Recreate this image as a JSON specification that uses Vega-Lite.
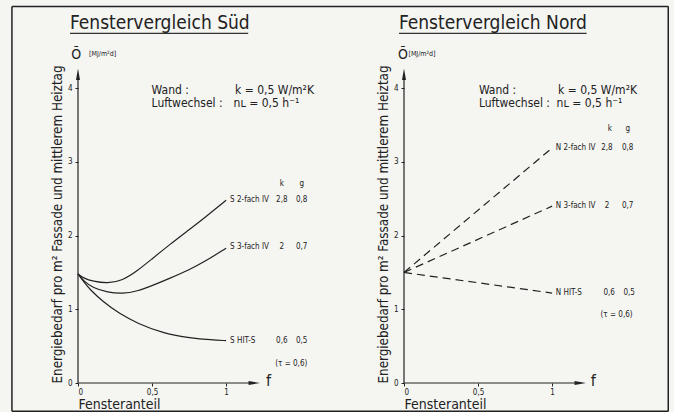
{
  "$schema": "https://vega.github.io/schema/vega-lite/v6.json",
  "background": "#f5f5f2",
  "padding": {"left": 11, "top": 5, "right": 5, "bottom": 0},
  "bounds": "flush",
  "spacing": 89,
  "config": {
    "font": "DejaVu Sans Condensed",
    "view": {"stroke": null},
    "axis": {"labelColor": "#222", "titleColor": "#222", "tickColor": "#222", "grid": false, "domain": false, "titleFontWeight": "normal"},
    "text": {"color": "#222"}
  },
  "datasets": {
    "one": [{}],
    "sued": [
      {"s": "2-fach IV", "f": 0, "q": 1.48}, {"s": "2-fach IV", "f": 0.04, "q": 1.42}, {"s": "2-fach IV", "f": 0.1, "q": 1.38},
      {"s": "2-fach IV", "f": 0.2, "q": 1.35}, {"s": "2-fach IV", "f": 0.3, "q": 1.39}, {"s": "2-fach IV", "f": 0.4, "q": 1.52},
      {"s": "2-fach IV", "f": 0.5, "q": 1.685}, {"s": "2-fach IV", "f": 0.62, "q": 1.88}, {"s": "2-fach IV", "f": 0.75, "q": 2.08},
      {"s": "2-fach IV", "f": 0.85, "q": 2.235}, {"s": "2-fach IV", "f": 1.0, "q": 2.48},
      {"s": "3-fach IV", "f": 0, "q": 1.48}, {"s": "3-fach IV", "f": 0.04, "q": 1.38}, {"s": "3-fach IV", "f": 0.1, "q": 1.29},
      {"s": "3-fach IV", "f": 0.2, "q": 1.23}, {"s": "3-fach IV", "f": 0.3, "q": 1.21}, {"s": "3-fach IV", "f": 0.4, "q": 1.245},
      {"s": "3-fach IV", "f": 0.5, "q": 1.32}, {"s": "3-fach IV", "f": 0.62, "q": 1.42}, {"s": "3-fach IV", "f": 0.75, "q": 1.535},
      {"s": "3-fach IV", "f": 0.85, "q": 1.64}, {"s": "3-fach IV", "f": 1.0, "q": 1.83},
      {"s": "HIT-S", "f": 0, "q": 1.48}, {"s": "HIT-S", "f": 0.04, "q": 1.37}, {"s": "HIT-S", "f": 0.08, "q": 1.27},
      {"s": "HIT-S", "f": 0.17, "q": 1.10}, {"s": "HIT-S", "f": 0.28, "q": 0.94}, {"s": "HIT-S", "f": 0.4, "q": 0.81},
      {"s": "HIT-S", "f": 0.58, "q": 0.67}, {"s": "HIT-S", "f": 0.76, "q": 0.61}, {"s": "HIT-S", "f": 0.9, "q": 0.585},
      {"s": "HIT-S", "f": 1.0, "q": 0.575}
    ],
    "nord": [
      {"s": "2-fach IV", "f": 0, "q": 1.5}, {"s": "2-fach IV", "f": 1, "q": 3.19},
      {"s": "3-fach IV", "f": 0, "q": 1.5}, {"s": "3-fach IV", "f": 1, "q": 2.4},
      {"s": "HIT-S", "f": 0, "q": 1.5}, {"s": "HIT-S", "f": 1, "q": 1.22}
    ],
    "names_s": [
      {"f": 1.027, "q": 2.48, "text": "S  2-fach IV"},
      {"f": 1.027, "q": 1.84, "text": "S  3-fach IV"},
      {"f": 1.027, "q": 0.575, "text": "S  HIT-S"}
    ],
    "names_n": [
      {"f": 1.025, "q": 3.19, "text": "N  2-fach IV"},
      {"f": 1.025, "q": 2.40, "text": "N  3-fach IV"},
      {"f": 1.025, "q": 1.22, "text": "N  HIT-S"}
    ],
    "kg_s": [
      {"f": 1.376, "q": 2.705, "text": "k"}, {"f": 1.51, "q": 2.705, "text": "g"},
      {"f": 1.376, "q": 2.48, "text": "2,8"}, {"f": 1.51, "q": 2.48, "text": "0,8"},
      {"f": 1.376, "q": 1.84, "text": "2"}, {"f": 1.51, "q": 1.84, "text": "0,7"},
      {"f": 1.376, "q": 0.575, "text": "0,6"}, {"f": 1.51, "q": 0.575, "text": "0,5"},
      {"f": 1.44, "q": 0.26, "text": "(τ = 0,6)"}
    ],
    "kg_n": [
      {"f": 1.39, "q": 3.45, "text": "k"}, {"f": 1.51, "q": 3.45, "text": "g"},
      {"f": 1.37, "q": 3.19, "text": "2,8"}, {"f": 1.51, "q": 3.19, "text": "0,8"},
      {"f": 1.37, "q": 2.40, "text": "2"}, {"f": 1.51, "q": 2.40, "text": "0,7"},
      {"f": 1.385, "q": 1.22, "text": "0,6"}, {"f": 1.52, "q": 1.22, "text": "0,5"},
      {"f": 1.435, "q": 0.92, "text": "(τ = 0,6)"}
    ],
    "info_s": [
      {"f": 0.497, "q": 3.98, "text": "Wand :"},
      {"f": 0.497, "q": 3.80, "text": "Luftwechsel :"},
      {"f": 1.06, "q": 3.98, "text": "k = 0,5 W/m²K"},
      {"f": 1.05, "q": 3.80, "text": "nʟ = 0,5 h⁻¹"}
    ],
    "info_n": [
      {"f": 0.506, "q": 3.98, "text": "Wand :"},
      {"f": 0.506, "q": 3.80, "text": "Luftwechsel :"},
      {"f": 1.04, "q": 3.98, "text": "k = 0,5 W/m²K"},
      {"f": 1.03, "q": 3.80, "text": "nʟ = 0,5 h⁻¹"}
    ]
  },
  "hconcat": [
    {
      "width": 237,
      "height": 339,
      "layer": [
        {
          "data": {"name": "sued"},
          "mark": {"type": "line", "interpolate": "basis", "color": "#222", "strokeWidth": 1.2},
          "encoding": {
            "x": {"field": "f", "type": "quantitative", "scale": {"domain": [0, 1.6], "nice": false},
              "axis": {"values": [0, 0.5, 1], "tickSize": 3, "labelFontSize": 8, "labelPadding": 2, "labelExpr": "replace(format(datum.value, '~g'), '.', ',')", "title": "Fensteranteil", "titleAnchor": "start", "titleFontSize": 14, "titlePadding": 1}},
            "y": {"field": "q", "type": "quantitative", "scale": {"domain": [0, 4.6], "nice": false},
              "axis": {"values": [0, 1, 2, 3, 4], "tickSize": 3, "labelFontSize": 8, "labelPadding": 3, "labelExpr": "format(datum.value, '~g')", "title": "Energiebedarf pro m² Fassade und mittlerem Heiztag", "titleAnchor": "start", "titleFontSize": 13.3, "titlePadding": 3}},
            "detail": {"field": "s", "type": "nominal"}
          }
        },
        {"data": {"name": "one"}, "mark": {"type": "text", "text": "Fenstervergleich  Süd", "fontSize": 19, "align": "left", "baseline": "alphabetic"}, "encoding": {"x": {"datum": -0.054}, "y": {"datum": 4.8}}},
        {"data": {"name": "one"}, "mark": {"type": "rule", "color": "#222", "strokeWidth": 1.2}, "encoding": {"x": {"datum": 0}, "y": {"datum": 0}, "y2": {"datum": 4.15}}},
        {"data": {"name": "one"}, "mark": {"type": "rule", "color": "#222", "strokeWidth": 1.2}, "encoding": {"y": {"datum": 0}, "x": {"datum": 0}, "x2": {"datum": 1.17}}},
        {"data": {"name": "one"}, "mark": {"type": "point", "shape": "M0,-1L0.35,1L-0.35,1Z", "filled": true, "color": "#222", "size": 130, "opacity": 1}, "encoding": {"x": {"datum": 0}, "y": {"datum": 4.19}}},
        {"data": {"name": "one"}, "mark": {"type": "point", "shape": "M1,0L-1,-0.35L-1,0.35Z", "filled": true, "color": "#222", "size": 130, "opacity": 1}, "encoding": {"x": {"datum": 1.19}, "y": {"datum": 0}}},
        {"data": {"name": "one"}, "mark": {"type": "text", "text": "f", "fontSize": 16, "align": "left", "baseline": "middle"}, "encoding": {"x": {"datum": 1.27}, "y": {"datum": 0.03}}},
        {"data": {"name": "one"}, "mark": {"type": "text", "text": "Ō", "fontSize": 14, "align": "left", "baseline": "middle"}, "encoding": {"x": {"datum": -0.045}, "y": {"datum": 4.45}}},
        {"data": {"name": "one"}, "mark": {"type": "text", "text": "[MJ/m²d]", "fontSize": 7, "align": "left", "baseline": "middle"}, "encoding": {"x": {"datum": 0.075}, "y": {"datum": 4.46}}},
        {"data": {"name": "names_s"}, "mark": {"type": "text", "fontSize": 8, "align": "left", "baseline": "middle"}, "encoding": {"x": {"field": "f", "type": "quantitative"}, "y": {"field": "q", "type": "quantitative"}, "text": {"field": "text"}}},
        {"data": {"name": "kg_s"}, "mark": {"type": "text", "fontSize": 8, "align": "center", "baseline": "middle"}, "encoding": {"x": {"field": "f", "type": "quantitative"}, "y": {"field": "q", "type": "quantitative"}, "text": {"field": "text"}}},
        {"data": {"name": "info_s"}, "mark": {"type": "text", "fontSize": 12, "align": "left", "baseline": "middle"}, "encoding": {"x": {"field": "f", "type": "quantitative"}, "y": {"field": "q", "type": "quantitative"}, "text": {"field": "text"}}},
        {"data": {"name": "one"}, "mark": {"type": "rule", "color": "#333", "strokeWidth": 1.2}, "encoding": {"x": {"datum": -0.054}, "x2": {"datum": 1.149}, "y": {"datum": 4.745}}},
        {"data": {"name": "one"}, "mark": {"type": "rule", "color": "#222", "strokeWidth": 1.5}, "encoding": {"x": {"datum": -0.446}, "y": {"datum": 5.11}, "y2": {"datum": -0.384}}},
        {"data": {"name": "one"}, "mark": {"type": "rule", "color": "#222", "strokeWidth": 1.5}, "encoding": {"y": {"datum": 5.11}, "x": {"datum": -0.446}, "x2": {"datum": 3.986}}},
        {"data": {"name": "one"}, "mark": {"type": "rule", "color": "#222", "strokeWidth": 1.5}, "encoding": {"y": {"datum": -0.384}, "x": {"datum": -0.446}, "x2": {"datum": 3.986}}}
      ]
    },
    {
      "width": 237,
      "height": 339,
      "layer": [
        {
          "data": {"name": "nord"},
          "mark": {"type": "line", "color": "#222", "strokeWidth": 1.2, "strokeDash": [8, 5]},
          "encoding": {
            "x": {"field": "f", "type": "quantitative", "scale": {"domain": [0, 1.6], "nice": false},
              "axis": {"values": [0, 0.5, 1], "tickSize": 3, "labelFontSize": 8, "labelPadding": 2, "labelExpr": "replace(format(datum.value, '~g'), '.', ',')", "title": "Fensteranteil", "titleAnchor": "start", "titleFontSize": 14, "titlePadding": 1}},
            "y": {"field": "q", "type": "quantitative", "scale": {"domain": [0, 4.6], "nice": false},
              "axis": {"values": [0, 1, 2, 3, 4], "tickSize": 3, "labelFontSize": 8, "labelPadding": 3, "labelExpr": "format(datum.value, '~g')", "title": "Energiebedarf pro m² Fassade und mittlerem Heiztag", "titleAnchor": "start", "titleFontSize": 13.3, "titlePadding": 3}},
            "detail": {"field": "s", "type": "nominal"}
          }
        },
        {"data": {"name": "one"}, "mark": {"type": "text", "text": "Fenstervergleich  Nord", "fontSize": 19, "align": "left", "baseline": "alphabetic"}, "encoding": {"x": {"datum": -0.034}, "y": {"datum": 4.8}}},
        {"data": {"name": "one"}, "mark": {"type": "rule", "color": "#222", "strokeWidth": 1.2}, "encoding": {"x": {"datum": 0}, "y": {"datum": 0}, "y2": {"datum": 4.15}}},
        {"data": {"name": "one"}, "mark": {"type": "rule", "color": "#222", "strokeWidth": 1.2}, "encoding": {"y": {"datum": 0}, "x": {"datum": 0}, "x2": {"datum": 1.17}}},
        {"data": {"name": "one"}, "mark": {"type": "point", "shape": "M0,-1L0.35,1L-0.35,1Z", "filled": true, "color": "#222", "size": 130, "opacity": 1}, "encoding": {"x": {"datum": 0}, "y": {"datum": 4.19}}},
        {"data": {"name": "one"}, "mark": {"type": "point", "shape": "M1,0L-1,-0.35L-1,0.35Z", "filled": true, "color": "#222", "size": 130, "opacity": 1}, "encoding": {"x": {"datum": 1.19}, "y": {"datum": 0}}},
        {"data": {"name": "one"}, "mark": {"type": "text", "text": "f", "fontSize": 16, "align": "left", "baseline": "middle"}, "encoding": {"x": {"datum": 1.26}, "y": {"datum": 0.03}}},
        {"data": {"name": "one"}, "mark": {"type": "text", "text": "Ō", "fontSize": 14, "align": "left", "baseline": "middle"}, "encoding": {"x": {"datum": -0.04}, "y": {"datum": 4.45}}},
        {"data": {"name": "one"}, "mark": {"type": "text", "text": "[MJ/m²d]", "fontSize": 7, "align": "left", "baseline": "middle"}, "encoding": {"x": {"datum": 0.03}, "y": {"datum": 4.46}}},
        {"data": {"name": "names_n"}, "mark": {"type": "text", "fontSize": 8, "align": "left", "baseline": "middle"}, "encoding": {"x": {"field": "f", "type": "quantitative"}, "y": {"field": "q", "type": "quantitative"}, "text": {"field": "text"}}},
        {"data": {"name": "kg_n"}, "mark": {"type": "text", "fontSize": 8, "align": "center", "baseline": "middle"}, "encoding": {"x": {"field": "f", "type": "quantitative"}, "y": {"field": "q", "type": "quantitative"}, "text": {"field": "text"}}},
        {"data": {"name": "info_n"}, "mark": {"type": "text", "fontSize": 12, "align": "left", "baseline": "middle"}, "encoding": {"x": {"field": "f", "type": "quantitative"}, "y": {"field": "q", "type": "quantitative"}, "text": {"field": "text"}}},
        {"data": {"name": "one"}, "mark": {"type": "rule", "color": "#333", "strokeWidth": 1.2}, "encoding": {"x": {"datum": -0.034}, "x2": {"datum": 1.233}, "y": {"datum": 4.745}}},
        {"data": {"name": "one"}, "mark": {"type": "rule", "color": "#222", "strokeWidth": 1.5}, "encoding": {"x": {"datum": 1.784}, "y": {"datum": 5.11}, "y2": {"datum": -0.384}}}
      ]
    }
  ]
}
